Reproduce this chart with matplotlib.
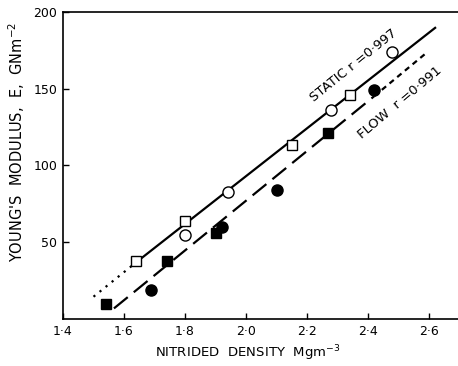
import matplotlib
matplotlib.use('Agg')
import matplotlib.pyplot as plt
from matplotlib.ticker import FuncFormatter

# static modulus points
static_sq_x = [1.64, 1.80, 2.15, 2.34]
static_sq_y = [38, 64, 113, 146]
static_ci_x = [1.80, 1.94, 2.28, 2.48]
static_ci_y = [55, 83, 136, 174]

# flow modulus points
flow_sq_x = [1.54, 1.74, 1.90, 2.27]
flow_sq_y = [10, 38, 56, 121]
flow_ci_x = [1.69, 1.92, 2.10, 2.42]
flow_ci_y = [19, 60, 84, 149]

# fitted lines (extrapolated parts drawn dotted / short dashed)
static_fit_x = [1.50, 1.64, 2.62]
static_fit_y = [14.6, 37.0, 189.5]
flow_fit_x = [1.567, 2.42, 2.59]
flow_fit_y = [7.0, 145.0, 173.0]

xticks = [1.4, 1.6, 1.8, 2.0, 2.2, 2.4, 2.6]
yticks = [50, 100, 150, 200]

plt.rcParams['font.family'] = 'DejaVu Sans'

fig = plt.figure(figsize=(4.58, 3.66), dpi=100)
ax = fig.add_axes([0.1376, 0.128, 0.8624, 0.84])

lw = 1.6
ax.plot(static_fit_x[:2], static_fit_y[:2], color='black', lw=lw,
        linestyle=(0, (1, 2.5)))
ax.plot(static_fit_x[1:], static_fit_y[1:], color='black', lw=lw, linestyle='-')
ax.plot(flow_fit_x[:2], flow_fit_y[:2], color='black', lw=lw,
        linestyle=(0, (8, 3.5)))
ax.plot(flow_fit_x[1:], flow_fit_y[1:], color='black', lw=lw,
        linestyle=(0, (2.5, 2)))

ax.plot(static_sq_x, static_sq_y, 's', ms=7, mfc='white', mec='black', mew=1.0)
ax.plot(static_ci_x, static_ci_y, 'o', ms=8, mfc='white', mec='black', mew=1.0)
ax.plot(flow_sq_x, flow_sq_y, 's', ms=7, mfc='black', mec='black')
ax.plot(flow_ci_x, flow_ci_y, 'o', ms=8, mfc='black', mec='black')

ax.text(2.353, 165, 'STATIC r =0·997', rotation=39, ha='center', va='center',
        fontsize=9.5)
ax.text(2.504, 141, 'FLOW  r =0·991', rotation=40, ha='center', va='center',
        fontsize=9.5)

ax.set_xlim(1.4, 2.695)
ax.set_ylim(0, 200)
ax.set_xticks(xticks)
ax.set_yticks(yticks)
ax.xaxis.set_major_formatter(FuncFormatter(lambda v, p: f'{v:.1f}'.replace('.', '·')))
ax.tick_params(direction='in', length=4, width=1, labelsize=9, pad=4)
ax.spines['right'].set_visible(False)
for s in ['left', 'bottom', 'top']:
    ax.spines[s].set_linewidth(1.2)

ax.set_xlabel('NITRIDED  DENSITY  Mgm$^{-3}$', fontsize=9.5)
ax.set_ylabel("YOUNG'S  MODULUS,  E,  GNm$^{-2}$", fontsize=10.5)
ax.yaxis.set_label_coords(-0.09, 0.575)
ax.xaxis.set_label_coords(0.467, -0.08)

fig.savefig('out.png', dpi=100)
